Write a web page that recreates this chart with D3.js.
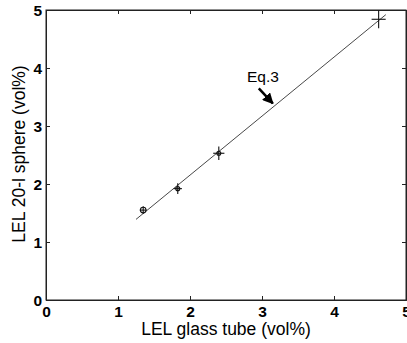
<!DOCTYPE html>
<html><head><meta charset="utf-8">
<script src="https://cdn.jsdelivr.net/npm/d3@7"></script>
<style>body{margin:0;background:#fff}svg{display:block}text{font-family:"Liberation Sans",Arial,sans-serif}</style>
</head><body><svg id="c" width="407" height="343"></svg>
<script>
const xTicks = [0,1,2,3,4,5];
const yTicks = [0,1,2,3,4,5];
const glassTube = [1.35, 1.83, 2.40, 4.62];
const sphere20l = [1.55, 1.92, 2.53, 4.84];
const errY = [0.03, 0.06, 0.08, 0.12];
const errX = [0.02, 0.03, 0.05, 0.07];
const fitLineX = [1.25, 4.72];
const fitLineY = [1.39, 4.92];
const eqLabel = "Eq.3";
const eqPoint = [3.15, 3.39];

const svg = d3.select("#c");
const m = {l:46, r:406, t:10, b:300};
const x = d3.scaleLinear().domain([0,5]).range([m.l, m.r]);
const y = d3.scaleLinear().domain([0,5]).range([m.b, m.t]);

svg.append("rect").attr("x",m.l).attr("y",m.t).attr("width",m.r-m.l).attr("height",m.b-m.t)
  .attr("fill","none").attr("stroke","#222").attr("stroke-width",1);

const ax = svg.append("g").attr("transform",`translate(0,${m.b})`)
  .call(d3.axisBottom(x).tickValues(xTicks).tickSize(-4).tickPadding(6).tickFormat(d3.format("d")));
const ay = svg.append("g").attr("transform",`translate(${m.l},0)`)
  .call(d3.axisLeft(y).tickValues(yTicks).tickSize(-4).tickPadding(4).tickFormat(d3.format("d")));
const axt = svg.append("g").attr("transform",`translate(0,${m.t})`)
  .call(d3.axisTop(x).tickValues(xTicks).tickSize(-4).tickFormat(""));
const ayr = svg.append("g").attr("transform",`translate(${m.r},0)`)
  .call(d3.axisRight(y).tickValues(yTicks).tickSize(-4).tickFormat(""));
[ax,ay,axt,ayr].forEach(g=>{g.select(".domain").attr("stroke","#222");g.selectAll(".tick line").attr("stroke","#222");});
[ax,ay].forEach(g=>g.selectAll("text").attr("font-size",15.5).attr("font-weight","bold").attr("fill","#000"));
ax.selectAll("text").attr("dy","0.72em");
ay.selectAll("text").attr("dy","0.35em");

svg.append("line").attr("x1",x(fitLineX[0])).attr("y1",y(fitLineY[0]))
  .attr("x2",x(fitLineX[1])).attr("y2",y(fitLineY[1])).attr("stroke","#333").attr("stroke-width",0.9);

glassTube.forEach((gx,i)=>{
  const cx=x(gx), cy=y(sphere20l[i]);
  const g=svg.append("g").attr("stroke","#111").attr("stroke-width",1.1).attr("fill","none");
  g.append("line").attr("x1",cx).attr("x2",cx).attr("y1",y(sphere20l[i]+errY[i])-2).attr("y2",y(sphere20l[i]-errY[i])+2);
  g.append("line").attr("y1",cy).attr("y2",cy).attr("x1",x(gx-errX[i])-2).attr("x2",x(gx+errX[i])+2);
  if(i<3) g.append("circle").attr("cx",cx).attr("cy",cy).attr("r",i===0?2.8:2);
});

svg.append("text").attr("x",247).attr("y",82).attr("font-size",15.5).attr("fill","#000").text(eqLabel);
svg.append("defs").append("marker").attr("id","ah").attr("viewBox","0 0 10 10").attr("refX",9).attr("refY",5)
  .attr("markerWidth",11).attr("markerHeight",11).attr("markerUnits","userSpaceOnUse").attr("orient","auto")
  .append("path").attr("d","M0,0L10,5L0,10z").attr("fill","#000");
const ex=x(eqPoint[0]), ey=y(eqPoint[1]);
svg.append("line").attr("x1",ex-14).attr("y1",ey-15).attr("x2",ex).attr("y2",ey)
  .attr("stroke","#000").attr("stroke-width",2.5).attr("marker-end","url(#ah)");

svg.append("text").attr("x",226).attr("y",335).attr("text-anchor","middle").attr("font-size",17.5).attr("fill","#000").text("LEL glass tube (vol%)");
svg.append("text").attr("transform","translate(25,154) rotate(-90)").attr("text-anchor","middle").attr("font-size",17.5).attr("fill","#000").text("LEL 20-l sphere (vol%)");
</script></body></html>
